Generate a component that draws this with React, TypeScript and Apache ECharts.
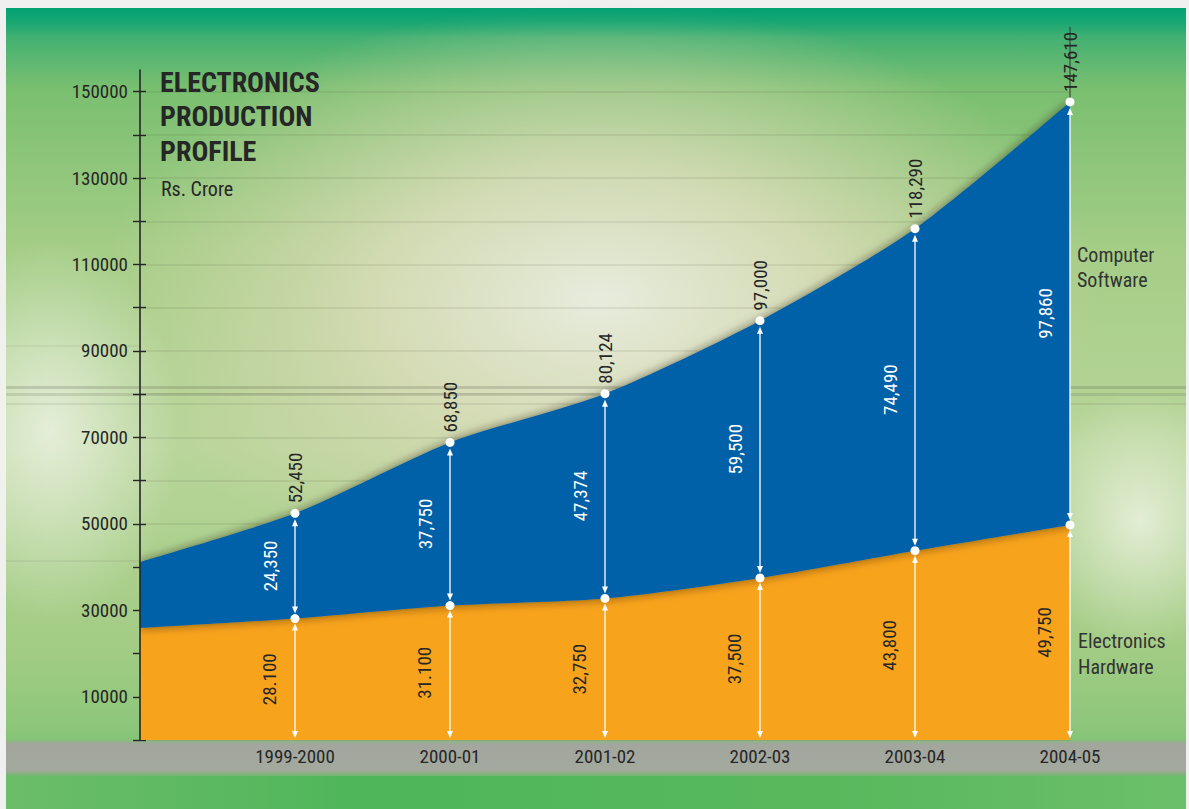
import React, { useEffect, useRef } from 'react';
import * as echarts from 'echarts';

const categories = ['', '1999-2000', '2000-01', '2001-02', '2002-03', '2003-04', '2004-05'];
const hardware = [25900, 28100, 31100, 32750, 37500, 43800, 49750];
const software = [15300, 24350, 37750, 47374, 59500, 74490, 97860];
const totals = [41200, 52450, 68850, 80124, 97000, 118290, 147610];
const hardwareLabels = ['', '28.100', '31.100', '32,750', '37,500', '43,800', '49,750'];
const softwareLabels = ['', '24,350', '37,750', '47,374', '59,500', '74,490', '97,860'];
const totalLabels = ['', '52,450', '68,850', '80,124', '97,000', '118,290', '147,610'];
const yTicks = [0, 10000, 20000, 30000, 40000, 50000, 60000, 70000, 80000, 90000, 100000, 110000, 120000, 130000, 140000, 150000];
const yLabels = [10000, 30000, 50000, 70000, 90000, 110000, 130000, 150000];
const titleLines = ['ELECTRONICS', 'PRODUCTION', 'PROFILE'];
const unitText = 'Rs. Crore';
const softwareName = ['Computer', 'Software'];
const hardwareName = ['Electronics', 'Hardware'];

const NARROW = "'Liberation Sans Narrow', 'Arial Narrow', 'Roboto Condensed', 'DejaVu Sans Condensed', sans-serif";
const INK = '#262626';
const ORANGE = '#f8a31f';
const BLUE = '#0560a8';

function arrowParts(x: number, top: number, bottom: number) {
  const st = { fill: '#ffffff', stroke: '#ffffff', lineWidth: 0 };
  return [
    { type: 'line', shape: { x1: x, y1: top + 4, x2: x, y2: bottom - 4 }, style: { stroke: '#ffffff', lineWidth: 1.3 } },
    { type: 'polygon', shape: { points: [[x, top], [x - 3, top + 7], [x + 3, top + 7]] }, style: st },
    { type: 'polygon', shape: { points: [[x, bottom], [x - 3, bottom - 7], [x + 3, bottom - 7]] }, style: st },
  ];
}

function streak(y: number, h: number, a: number, x = 6, w = 1180) {
  return { type: 'rect', z: -97, silent: true, shape: { x, y, width: w, height: h }, style: { fill: `rgba(80,82,66,${a})` } };
}

export default function App() {
  const ref = useRef<HTMLDivElement>(null);
  useEffect(() => {
    if (!ref.current) return;
    const chart = echarts.init(ref.current, undefined, { renderer: 'svg' });

    const customData = categories
      .map((c, i) => [i, hardware[i], totals[i]])
      .filter((d) => totalLabels[d[0] as number] !== '');

    const bg: any[] = [
      {
        type: 'rect', z: -100, silent: true,
        shape: { x: 6, y: 8, width: 1180, height: 801 },
        style: {
          fill: new echarts.graphic.LinearGradient(0, 0, 0, 1, [
            { offset: 0, color: '#12a674' },
            { offset: 0.03, color: '#3daf72' },
            { offset: 0.1, color: '#7abf70' },
            { offset: 0.3, color: '#a4cd86' },
            { offset: 0.55, color: '#b8d59a' },
            { offset: 0.8, color: '#a2cc84' },
            { offset: 0.9, color: '#8cc67a' },
            { offset: 1, color: '#52b55a' },
          ]),
        },
      },
      {
        type: 'ellipse', z: -99, silent: true,
        shape: { cx: 600, cy: 300, rx: 500, ry: 300 },
        style: {
          fill: new echarts.graphic.RadialGradient(0.5, 0.5, 0.5, [
            { offset: 0, color: 'rgba(232,236,222,1)' },
            { offset: 0.45, color: 'rgba(222,222,190,0.8)' },
            { offset: 1, color: 'rgba(214,214,170,0)' },
          ]),
        },
      },
      {
        type: 'ellipse', z: -99, silent: true,
        shape: { cx: 50, cy: 430, rx: 130, ry: 190 },
        style: {
          fill: new echarts.graphic.RadialGradient(0.5, 0.5, 0.5, [
            { offset: 0, color: 'rgba(240,244,232,0.8)' },
            { offset: 1, color: 'rgba(240,244,232,0)' },
          ]),
        },
      },
      {
        type: 'ellipse', z: -99, silent: true,
        shape: { cx: 1140, cy: 520, rx: 110, ry: 130 },
        style: {
          fill: new echarts.graphic.RadialGradient(0.5, 0.5, 0.5, [
            { offset: 0, color: 'rgba(236,242,224,0.85)' },
            { offset: 1, color: 'rgba(236,242,224,0)' },
          ]),
        },
      },
      {
        type: 'rect', z: -98, silent: true,
        shape: { x: 6, y: 8, width: 1180, height: 30 },
        style: {
          fill: new echarts.graphic.LinearGradient(0, 0, 0, 1, [
            { offset: 0, color: 'rgba(0,160,115,0.8)' },
            { offset: 1, color: 'rgba(0,160,115,0)' },
          ]),
        },
      },
      streak(386, 3, 0.2),
      streak(393, 3, 0.16),
      streak(403, 2, 0.1),
      streak(345, 2, 0.07, 6, 134),
      streak(560, 2, 0.08, 6, 134),
      {
        type: 'rect', z: -96, silent: true,
        shape: { x: 6, y: 740, width: 1180, height: 36 },
        style: {
          fill: new echarts.graphic.LinearGradient(0, 0, 0, 1, [
            { offset: 0, color: 'rgba(160,164,156,0.3)' },
            { offset: 0.12, color: '#a2a69d' },
            { offset: 0.85, color: '#a4a99e' },
            { offset: 1, color: 'rgba(150,170,140,0.2)' },
          ]),
        },
      },
      {
        type: 'rect', z: -96, silent: true,
        shape: { x: 6, y: 776, width: 1180, height: 33 },
        style: {
          fill: new echarts.graphic.LinearGradient(0, 0, 1, 0, [
            { offset: 0, color: '#6cbd6a' },
            { offset: 0.3, color: '#4fb65a' },
            { offset: 0.7, color: '#58b85c' },
            { offset: 1, color: '#6cbf6a' },
          ]),
        },
      },
    ];

    const texts: any[] = [
      ...titleLines.map((t, k) => ({
        type: 'text', z: 100, silent: true, x: 160, y: 82 + k * 34.7,
        style: { text: t, fill: INK, font: `bold 28px ${NARROW}`, textAlign: 'left', textVerticalAlign: 'middle' },
      })),
      {
        type: 'text', z: 100, silent: true, x: 161, y: 189,
        style: { text: unitText, fill: INK, font: `20px ${NARROW}`, textAlign: 'left', textVerticalAlign: 'middle' },
      },
      ...softwareName.map((t, k) => ({
        type: 'text', z: 100, silent: true, x: 1077, y: 255 + k * 25,
        style: { text: t, fill: '#333333', font: `20px ${NARROW}`, textAlign: 'left', textVerticalAlign: 'middle' },
      })),
      ...hardwareName.map((t, k) => ({
        type: 'text', z: 100, silent: true, x: 1078, y: 641 + k * 26,
        style: { text: t, fill: '#333333', font: `20px ${NARROW}`, textAlign: 'left', textVerticalAlign: 'middle' },
      })),
    ];

    const option: any = {
      animation: false,
      backgroundColor: '#f0f0f0',
      graphic: [...bg, ...texts],
      grid: { left: 140, right: 119, top: 70, bottom: 69, containLabel: false },
      xAxis: {
        type: 'category',
        data: categories,
        boundaryGap: false,
        axisLine: { show: false },
        axisTick: { show: false },
        splitLine: { show: false },
        axisLabel: { color: INK, fontSize: 19, fontFamily: NARROW, margin: 7, interval: 0 },
      },
      yAxis: [
        {
          type: 'value', min: 0, max: 155000, position: 'left', z: 10,
          axisLine: { show: true, lineStyle: { color: INK, width: 1.6 } },
          axisTick: { show: true, inside: false, length: 7, customValues: yTicks, lineStyle: { color: INK, width: 1.4 } },
          axisLabel: { customValues: yLabels, color: INK, fontSize: 19, fontFamily: NARROW, margin: 12, formatter: (v: number) => String(v) },
          splitLine: { show: false },
        },
        {
          type: 'value', min: 0, max: 155000, position: 'left', z: 1,
          axisLine: { show: false },
          axisTick: { show: true, inside: true, length: 6, customValues: yTicks, lineStyle: { color: INK, width: 1.4 } },
          axisLabel: { show: false },
          splitLine: { show: true, lineStyle: { color: 'rgba(70,70,50,0.12)', width: 1.5 } },
        },
      ],
      series: [
        {
          name: 'Electronics Hardware',
          type: 'line', stack: 'total', smooth: 0.25, symbol: 'none', z: 2,
          lineStyle: { width: 0 },
          areaStyle: { color: ORANGE, opacity: 1, shadowBlur: 10, shadowColor: 'rgba(0,0,0,0.45)' },
          data: hardware,
        },
        {
          name: 'Computer Software',
          type: 'line', stack: 'total', smooth: 0.25, symbol: 'none', z: 3,
          lineStyle: { width: 0 },
          areaStyle: { color: BLUE, opacity: 1, shadowBlur: 10, shadowColor: 'rgba(40,30,0,0.6)' },
          data: software,
        },
        {
          type: 'custom', z: 6, clip: false, silent: true,
          data: customData,
          renderItem: (params: any, api: any) => {
            const i = api.value(0);
            const hw = api.value(1);
            const tot = api.value(2);
            const p0 = api.coord([i, 0]);
            const p1 = api.coord([i, hw]);
            const p2 = api.coord([i, tot]);
            const x = p0[0];
            const children: any[] = [];
            if (i === categories.length - 1) {
              children.push({ type: 'line', shape: { x1: x, y1: p2[1], x2: x, y2: p2[1] - 75 }, style: { stroke: '#333', lineWidth: 1 } });
            }
            children.push(...arrowParts(x, p1[1] + 5, p0[1] - 2));
            children.push(...arrowParts(x, p2[1] + 6, p1[1] - 5));
            children.push({ type: 'circle', shape: { cx: x, cy: p1[1], r: 4.5 }, style: { fill: '#ffffff' } });
            children.push({ type: 'circle', shape: { cx: x, cy: p2[1], r: 4.5 }, style: { fill: '#ffffff' } });
            children.push({
              type: 'text', x: x - 26, y: (p0[1] + p1[1]) / 2, rotation: Math.PI / 2,
              style: { text: hardwareLabels[i], fill: INK, font: `19px ${NARROW}`, textAlign: 'center', textVerticalAlign: 'middle' },
            });
            children.push({
              type: 'text', x: x - 25, y: (p1[1] + p2[1]) / 2, rotation: Math.PI / 2,
              style: { text: softwareLabels[i], fill: '#ffffff', font: `19px ${NARROW}`, textAlign: 'center', textVerticalAlign: 'middle' },
            });
            children.push({
              type: 'text', x: x, y: p2[1] - 10, rotation: Math.PI / 2,
              style: { text: totalLabels[i], fill: INK, font: `19px ${NARROW}`, textAlign: 'left', textVerticalAlign: 'middle' },
            });
            return { type: 'group', children };
          },
        },
      ],
    };
    chart.setOption(option);
    return () => chart.dispose();
  }, []);
  return <div ref={ref} style={{ position: 'fixed', left: 0, top: 0, width: 1189, height: 809 }} />;
}
